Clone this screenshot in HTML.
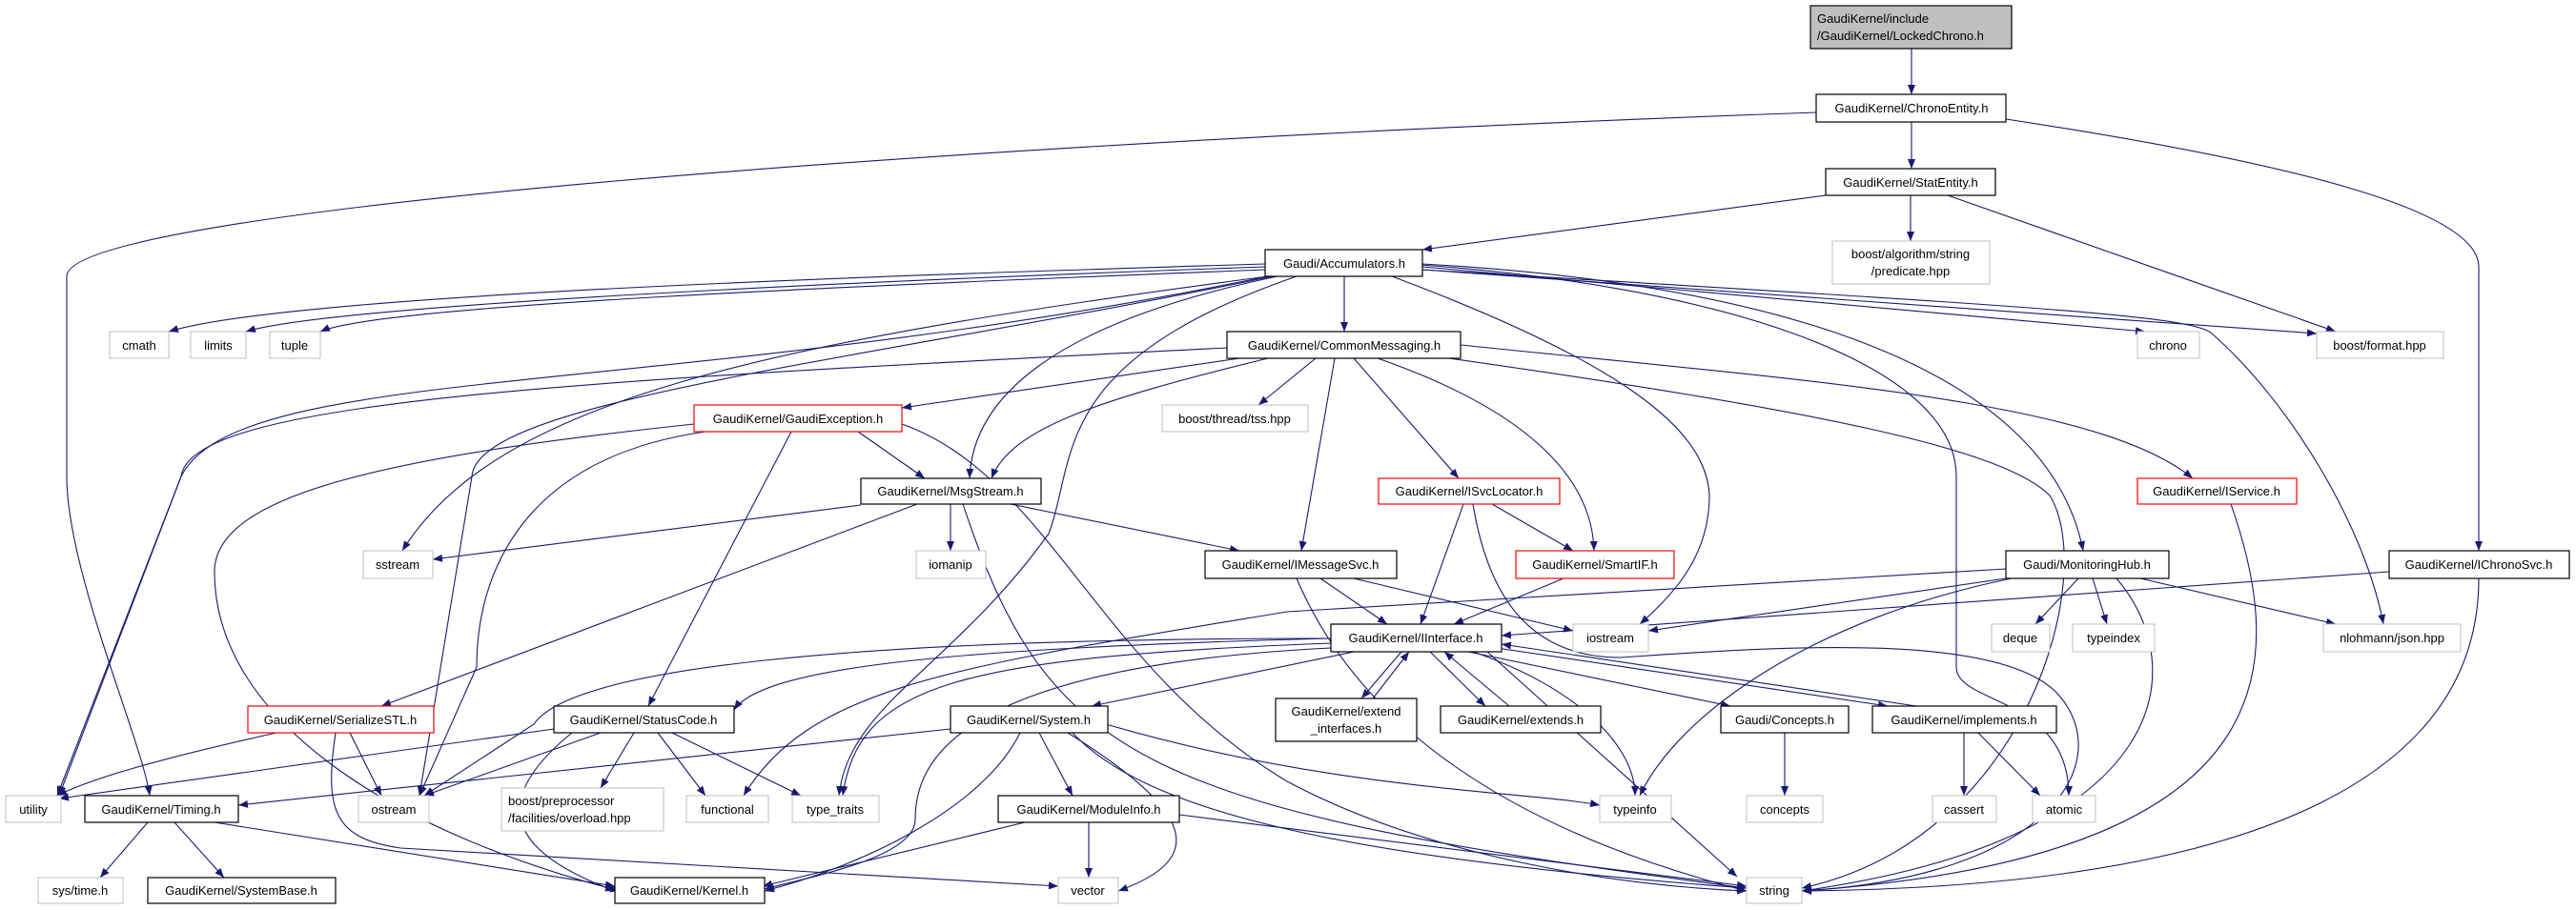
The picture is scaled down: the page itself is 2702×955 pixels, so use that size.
<!DOCTYPE html>
<html><head><meta charset="utf-8"><style>
html,body{margin:0;padding:0;background:#fff;}
svg{display:block;}
text{font-family:"Liberation Sans",sans-serif;font-size:13px;fill:#000;}
.n{fill:#fff;stroke:#000;stroke-width:1.2;}
.g{fill:#fff;stroke:#bfbfbf;stroke-width:1;}
.r{fill:#fff;stroke:#ff0000;stroke-width:1.2;}
path.e{fill:none;stroke:#191970;stroke-width:1.1;marker-end:url(#a);}
</style></head><body>
<svg width="2702" height="955" viewBox="0 0 2702 955" xmlns="http://www.w3.org/2000/svg">
<defs><marker id="a" markerWidth="10" markerHeight="8" refX="10" refY="4" orient="auto" markerUnits="userSpaceOnUse"><path d="M0,0 L10,4 L0,8 z" fill="#191970"/></marker></defs>
<g>
<path class="e" d="M2005,51 L2005,99"/>
<path class="e" d="M2005,128 L2005,177"/>
<path class="e" d="M1905,118 C1000,150 70,220 70,290 L70,500 C70,600 150,780 157,835"/>
<path class="e" d="M2104,125 C2400,170 2600,220 2600,280 L2600,578"/>
<path class="e" d="M1915,205 L1492,262"/>
<path class="e" d="M2004,205 L2004,253"/>
<path class="e" d="M2043,205 L2450,348"/>
<path class="e" d="M1327,277 C900,290 300,310 177,348"/>
<path class="e" d="M1327,280 C900,295 350,320 258,348"/>
<path class="e" d="M1327,283 C900,300 400,320 336,348"/>
<path class="e" d="M1330,290 C700,420 250,380 190,500 L60,835"/>
<path class="e" d="M1340,290 C1100,340 1020,420 1017,502"/>
<path class="e" d="M1410,290 L1410,348"/>
<path class="e" d="M1360,290 C1100,380 1130,480 1100,560 C1000,700 890,740 880,835"/>
<path class="e" d="M1460,290 C1700,380 1790,450 1793,520 C1793,580 1760,620 1720,655"/>
<path class="e" d="M1492,280 L2250,348"/>
<path class="e" d="M1492,283 L2430,350"/>
<path class="e" d="M1492,283 C2100,320 2300,330 2320,350 C2400,420 2480,550 2500,655"/>
<path class="e" d="M1492,277 C1900,300 2150,400 2185,578"/>
<path class="e" d="M1490,278 C1800,300 2052,380 2052,500 L2052,700 C2052,740 2170,730 2170,835"/>
<path class="e" d="M1330,290 C800,360 520,420 422,578"/>
<path class="e" d="M1335,290 C900,380 500,420 495,500 L440,835"/>
<path class="e" d="M1287,365 C600,400 200,420 190,500 L62,835"/>
<path class="e" d="M1300,376 L946,428"/>
<path class="e" d="M1380,376 L1320,425"/>
<path class="e" d="M1330,376 C1150,420 1060,450 1040,502"/>
<path class="e" d="M1400,376 L1365,578"/>
<path class="e" d="M1420,376 L1530,502"/>
<path class="e" d="M1445,376 C1600,430 1670,500 1672,578"/>
<path class="e" d="M1532,362 C1900,400 2200,420 2300,502"/>
<path class="e" d="M1520,376 C1900,430 2100,470 2150,520 C2200,600 2130,880 1890,932"/>
<path class="e" d="M900,453 L970,502"/>
<path class="e" d="M740,453 C550,480 500,600 500,700 L440,835"/>
<path class="e" d="M830,453 L680,741"/>
<path class="e" d="M728,445 C400,480 225,520 225,600 C225,750 400,870 650,935"/>
<path class="e" d="M946,445 C1100,500 1150,700 1350,820 C1500,900 1700,930 1832,935"/>
<path class="e" d="M903,530 L454,587"/>
<path class="e" d="M997,529 L997,578"/>
<path class="e" d="M1060,529 L1300,578"/>
<path class="e" d="M962,529 L400,741"/>
<path class="e" d="M1010,529 C1100,800 1200,850 1832,932"/>
<path class="e" d="M1385,607 L1455,655"/>
<path class="e" d="M1420,607 L1650,662"/>
<path class="e" d="M1360,607 C1400,700 1500,850 1832,935"/>
<path class="e" d="M1535,529 L1490,655"/>
<path class="e" d="M1565,529 L1650,578"/>
<path class="e" d="M1545,529 C1560,620 1600,690 1700,690 C1850,680 2100,660 2160,730 C2220,800 2150,920 1890,935"/>
<path class="e" d="M1640,607 L1525,655"/>
<path class="e" d="M2104,597 L1350,642 C1000,700 850,720 780,835"/>
<path class="e" d="M2506,600 L1575,667"/>
<path class="e" d="M2104,607 L1729,662"/>
<path class="e" d="M2180,607 L2135,655"/>
<path class="e" d="M2195,607 L2210,655"/>
<path class="e" d="M2245,607 L2450,655"/>
<path class="e" d="M2220,607 C2300,700 2280,880 1890,935"/>
<path class="e" d="M2110,607 C1900,650 1760,750 1720,835"/>
<path class="e" d="M2600,607 C2600,800 2400,930 1890,935"/>
<path class="e" d="M2340,529 C2400,700 2400,900 1890,935"/>
<path class="e" d="M1470,684 L1428,733"/>
<path class="e" d="M1440,733 L1478,684"/>
<path class="e" d="M1500,684 L1558,741"/>
<path class="e" d="M1583,741 L1515,684"/>
<path class="e" d="M1540,684 L1815,741"/>
<path class="e" d="M1570,680 L1980,741"/>
<path class="e" d="M2010,741 L1575,676"/>
<path class="e" d="M1545,684 C1650,720 1715,780 1715,835"/>
<path class="e" d="M1560,684 L1822,920"/>
<path class="e" d="M1396,670 C1000,680 800,700 770,745"/>
<path class="e" d="M1420,684 L1145,741"/>
<path class="e" d="M1396,670 C900,670 600,700 560,760 L445,835"/>
<path class="e" d="M1396,675 C1000,690 900,720 884,835"/>
<path class="e" d="M1396,680 C1000,700 960,800 960,860 C960,900 850,920 802,933"/>
<path class="e" d="M2060,769 L2060,835"/>
<path class="e" d="M2075,769 L2140,835"/>
<path class="e" d="M1872,769 L1872,835"/>
<path class="e" d="M290,769 C150,800 90,820 60,835"/>
<path class="e" d="M367,769 L400,835"/>
<path class="e" d="M352,769 C340,850 350,880 420,890 L1110,930"/>
<path class="e" d="M581,765 L62,838"/>
<path class="e" d="M630,769 L445,835"/>
<path class="e" d="M665,769 L630,827"/>
<path class="e" d="M690,769 L740,835"/>
<path class="e" d="M705,769 L840,835"/>
<path class="e" d="M600,769 C500,850 550,900 645,935"/>
<path class="e" d="M997,765 L250,845"/>
<path class="e" d="M1090,769 L1125,835"/>
<path class="e" d="M1070,769 C1030,850 900,910 802,935"/>
<path class="e" d="M1120,769 C1250,850 1270,900 1173,935"/>
<path class="e" d="M1160,760 C1400,830 1600,830 1678,845"/>
<path class="e" d="M1125,769 C1200,850 1400,900 1832,932"/>
<path class="e" d="M1075,863 L800,930"/>
<path class="e" d="M1142,863 L1142,921"/>
<path class="e" d="M1237,855 L1832,930"/>
<path class="e" d="M155,863 L105,921"/>
<path class="e" d="M183,863 L235,921"/>
<path class="e" d="M225,863 L645,930"/>
</g>
<g>
<rect x="1899" y="6" width="211" height="45" fill="#bfbfbf" stroke="#000" stroke-width="1.2"/>
<text x="1906" y="24">GaudiKernel/include</text><text x="1906" y="42">/GaudiKernel/LockedChrono.h</text>
<rect class="n" x="1905" y="99" width="199" height="29"/><text x="2005" y="118" text-anchor="middle">GaudiKernel/ChronoEntity.h</text>
<rect class="n" x="1915" y="177" width="178" height="28"/><text x="2004" y="196" text-anchor="middle">GaudiKernel/StatEntity.h</text>
<rect class="g" x="1922" y="253" width="165" height="45"/><text x="2004" y="271" text-anchor="middle">boost/algorithm/string</text><text x="2004" y="289" text-anchor="middle">/predicate.hpp</text>
<rect class="n" x="1327" y="262" width="165" height="28"/><text x="1410" y="281" text-anchor="middle">Gaudi/Accumulators.h</text>
<rect class="g" x="2242" y="348" width="65" height="28"/><text x="2274" y="367" text-anchor="middle">chrono</text>
<rect class="g" x="2430" y="348" width="133" height="28"/><text x="2496" y="367" text-anchor="middle">boost/format.hpp</text>
<rect class="n" x="1287" y="348" width="245" height="28"/><text x="1410" y="367" text-anchor="middle">GaudiKernel/CommonMessaging.h</text>
<rect class="g" x="115" y="348" width="62" height="28"/><text x="146" y="367" text-anchor="middle">cmath</text>
<rect class="g" x="200" y="348" width="58" height="28"/><text x="229" y="367" text-anchor="middle">limits</text>
<rect class="g" x="283" y="348" width="53" height="28"/><text x="309" y="367" text-anchor="middle">tuple</text>
<rect class="r" x="728" y="425" width="218" height="28"/><text x="837" y="444" text-anchor="middle">GaudiKernel/GaudiException.h</text>
<rect class="g" x="1219" y="425" width="153" height="28"/><text x="1295" y="444" text-anchor="middle">boost/thread/tss.hpp</text>
<rect class="n" x="903" y="502" width="189" height="27"/><text x="997" y="520" text-anchor="middle">GaudiKernel/MsgStream.h</text>
<rect class="r" x="1446" y="502" width="190" height="27"/><text x="1541" y="520" text-anchor="middle">GaudiKernel/ISvcLocator.h</text>
<rect class="r" x="2242" y="502" width="167" height="27"/><text x="2325" y="520" text-anchor="middle">GaudiKernel/IService.h</text>
<rect class="g" x="381" y="578" width="73" height="29"/><text x="417" y="597" text-anchor="middle">sstream</text>
<rect class="g" x="961" y="578" width="73" height="29"/><text x="997" y="597" text-anchor="middle">iomanip</text>
<rect class="n" x="1264" y="578" width="201" height="29"/><text x="1364" y="597" text-anchor="middle">GaudiKernel/IMessageSvc.h</text>
<rect class="r" x="1590" y="578" width="166" height="29"/><text x="1673" y="597" text-anchor="middle">GaudiKernel/SmartIF.h</text>
<rect class="n" x="2104" y="578" width="171" height="29"/><text x="2189" y="597" text-anchor="middle">Gaudi/MonitoringHub.h</text>
<rect class="n" x="2506" y="578" width="189" height="29"/><text x="2600" y="597" text-anchor="middle">GaudiKernel/IChronoSvc.h</text>
<rect class="n" x="1396" y="655" width="179" height="29"/><text x="1485" y="674" text-anchor="middle">GaudiKernel/IInterface.h</text>
<rect class="g" x="1650" y="655" width="79" height="29"/><text x="1689" y="674" text-anchor="middle">iostream</text>
<rect class="g" x="2089" y="655" width="61" height="29"/><text x="2119" y="674" text-anchor="middle">deque</text>
<rect class="g" x="2174" y="655" width="86" height="29"/><text x="2217" y="674" text-anchor="middle">typeindex</text>
<rect class="g" x="2437" y="655" width="144" height="29"/><text x="2509" y="674" text-anchor="middle">nlohmann/json.hpp</text>
<rect class="r" x="260" y="741" width="195" height="28"/><text x="357" y="760" text-anchor="middle">GaudiKernel/SerializeSTL.h</text>
<rect class="n" x="581" y="741" width="189" height="28"/><text x="675" y="760" text-anchor="middle">GaudiKernel/StatusCode.h</text>
<rect class="n" x="997" y="741" width="165" height="28"/><text x="1079" y="760" text-anchor="middle">GaudiKernel/System.h</text>
<rect class="n" x="1338" y="733" width="148" height="45"/><text x="1412" y="751" text-anchor="middle">GaudiKernel/extend</text><text x="1412" y="769" text-anchor="middle">_interfaces.h</text>
<rect class="n" x="1511" y="741" width="168" height="28"/><text x="1595" y="760" text-anchor="middle">GaudiKernel/extends.h</text>
<rect class="n" x="1805" y="741" width="134" height="28"/><text x="1872" y="760" text-anchor="middle">Gaudi/Concepts.h</text>
<rect class="n" x="1964" y="741" width="193" height="28"/><text x="2060" y="760" text-anchor="middle">GaudiKernel/implements.h</text>
<rect class="g" x="6" y="835" width="58" height="28"/><text x="35" y="854" text-anchor="middle">utility</text>
<rect class="n" x="89" y="835" width="161" height="28"/><text x="169" y="854" text-anchor="middle">GaudiKernel/Timing.h</text>
<rect class="g" x="376" y="835" width="74" height="28"/><text x="413" y="854" text-anchor="middle">ostream</text>
<rect class="g" x="526" y="827" width="170" height="45"/><text x="533" y="845">boost/preprocessor</text><text x="533" y="863">/facilities/overload.hpp</text>
<rect class="g" x="720" y="835" width="86" height="28"/><text x="763" y="854" text-anchor="middle">functional</text>
<rect class="g" x="831" y="835" width="91" height="28"/><text x="876" y="854" text-anchor="middle">type_traits</text>
<rect class="n" x="1047" y="835" width="190" height="28"/><text x="1142" y="854" text-anchor="middle">GaudiKernel/ModuleInfo.h</text>
<rect class="g" x="1678" y="835" width="75" height="28"/><text x="1715" y="854" text-anchor="middle">typeinfo</text>
<rect class="g" x="1832" y="835" width="80" height="28"/><text x="1872" y="854" text-anchor="middle">concepts</text>
<rect class="g" x="2027" y="835" width="67" height="28"/><text x="2060" y="854" text-anchor="middle">cassert</text>
<rect class="g" x="2132" y="835" width="66" height="28"/><text x="2165" y="854" text-anchor="middle">atomic</text>
<rect class="g" x="40" y="921" width="89" height="27"/><text x="84" y="939" text-anchor="middle">sys/time.h</text>
<rect class="n" x="155" y="921" width="197" height="27"/><text x="253" y="939" text-anchor="middle">GaudiKernel/SystemBase.h</text>
<rect class="n" x="645" y="921" width="157" height="27"/><text x="723" y="939" text-anchor="middle">GaudiKernel/Kernel.h</text>
<rect class="g" x="1110" y="921" width="63" height="27"/><text x="1141" y="939" text-anchor="middle">vector</text>
<rect class="g" x="1832" y="921" width="58" height="27"/><text x="1861" y="939" text-anchor="middle">string</text>
</g>
</svg>
</body></html>
